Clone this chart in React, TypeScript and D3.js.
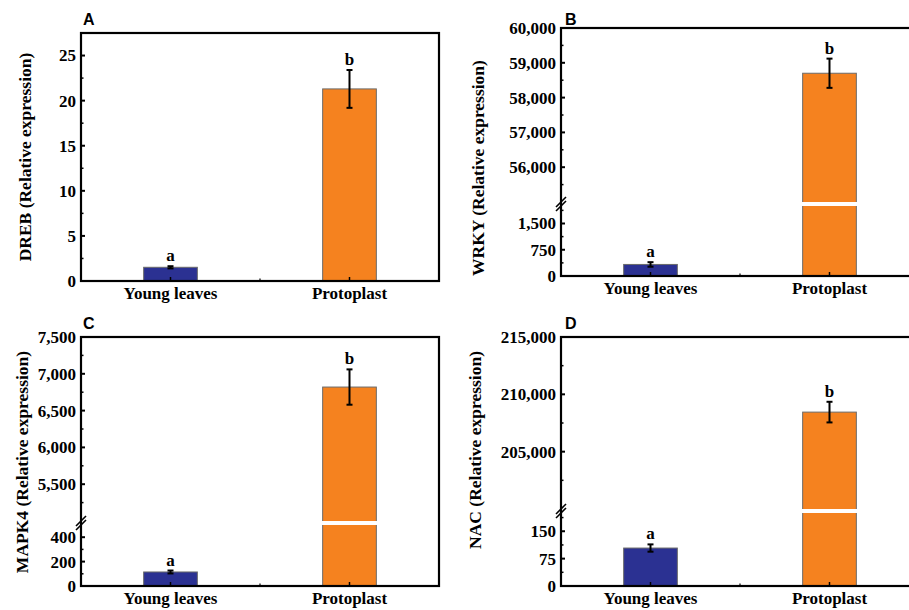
import React from 'react';
import * as d3 from 'd3';

// Sample groups shared by all four genes
const categories = ['Young leaves', 'Protoplast'];
const groupLetters = ['a', 'b'];
const barColors = ['#2b3192', '#f5821f'];

// Relative expression (mean ± SD) per gene
const dreebMean = [1.52, 21.3];
const dreebErr = [0.12, 2.1];
const wrkyMean = [330, 58700];
const wrkyErr = [65, 420];
const mapk4Mean = [115, 6820];
const mapk4Err = [12, 240];
const nacMean = [104, 208450];
const nacErr = [10, 900];

// Axis ticks (lower / upper segments for broken axes)
const dreebTicks = [0, 5, 10, 15, 20, 25];
const dreebMinor = [2.5, 7.5, 12.5, 17.5, 22.5];
const wrkyLowTicks = [0, 750, 1500];
const wrkyLowMinor = [375, 1125, 1875];
const wrkyHighTicks = [56000, 57000, 58000, 59000, 60000];
const wrkyHighMinor = [55500, 56500, 57500, 58500, 59500];
const mapk4LowTicks = [0, 200, 400];
const mapk4LowMinor = [100, 300];
const mapk4HighTicks = [5500, 6000, 6500, 7000, 7500];
const mapk4HighMinor = [5250, 5750, 6250, 6750, 7250];
const nacLowTicks = [0, 75, 150];
const nacLowMinor = [37.5, 112.5, 187.5];
const nacHighTicks = [205000, 210000, 215000];
const nacHighMinor = [202500, 207500, 212500];

interface Segment {
  domain: [number, number];
  range: [number, number];
  ticks: number[];
  minor: number[];
}

interface PanelSpec {
  tag: string;
  title: string;
  mean: number[];
  err: number[];
  left: number;
  right: number;
  top: number;
  bottom: number;
  lower: Segment;
  upper?: Segment;
  fmt: (v: number) => string;
  titleX: number;
  titleY: number;
  tagX: number;
  tagY: number;
}

const serif = 'Liberation Serif, Times New Roman, DejaVu Serif, serif';
const sans = 'Liberation Sans, Arial, sans-serif';

const panels: PanelSpec[] = [
  {
    tag: 'A',
    title: 'DREB (Relative expression)',
    mean: dreebMean,
    err: dreebErr,
    left: 81, right: 439, top: 33, bottom: 281,
    lower: { domain: [0, 27.5], range: [281, 33], ticks: dreebTicks, minor: dreebMinor },
    fmt: d3.format('d'),
    titleX: 31, titleY: 157,
    tagX: 83, tagY: 25,
  },
  {
    tag: 'B',
    title: 'WRKY (Relative expression)',
    mean: wrkyMean,
    err: wrkyErr,
    left: 561, right: 919, top: 28, bottom: 276,
    lower: { domain: [0, 2000], range: [276, 206], ticks: wrkyLowTicks, minor: wrkyLowMinor },
    upper: { domain: [55000, 60000], range: [202, 28], ticks: wrkyHighTicks, minor: wrkyHighMinor },
    fmt: d3.format(','),
    titleX: 484, titleY: 168,
    tagX: 565, tagY: 25,
  },
  {
    tag: 'C',
    title: 'MAPK4 (Relative expression)',
    mean: mapk4Mean,
    err: mapk4Err,
    left: 81, right: 439, top: 337, bottom: 586,
    lower: { domain: [0, 500], range: [586, 525], ticks: mapk4LowTicks, minor: mapk4LowMinor },
    upper: { domain: [5000, 7500], range: [521, 337], ticks: mapk4HighTicks, minor: mapk4HighMinor },
    fmt: d3.format(','),
    titleX: 28, titleY: 462,
    tagX: 83, tagY: 329,
  },
  {
    tag: 'D',
    title: 'NAC (Relative expression)',
    mean: nacMean,
    err: nacErr,
    left: 561, right: 919, top: 337, bottom: 586,
    lower: { domain: [0, 200], range: [586, 513], ticks: nacLowTicks, minor: nacLowMinor },
    upper: { domain: [200000, 215000], range: [509, 337], ticks: nacHighTicks, minor: nacHighMinor },
    fmt: d3.format(','),
    titleX: 481, titleY: 450,
    tagX: 565, tagY: 329,
  },
];

function Panel({ p }: { p: PanelSpec }) {
  const x = d3.scalePoint<string>().domain(categories).range([p.left, p.right]).padding(0.5);
  const lowY = d3.scaleLinear().domain(p.lower.domain).range(p.lower.range);
  const highY = p.upper ? d3.scaleLinear().domain(p.upper.domain).range(p.upper.range) : null;
  const yPos = (v: number) => (highY && p.upper && v >= p.upper.domain[0] ? highY(v) : lowY(v));
  const barW = x.step() * 0.3;
  const capW = 3;

  const segs: Segment[] = p.upper ? [p.lower, p.upper] : [p.lower];
  const scales = p.upper && highY ? [lowY, highY] : [lowY];
  const textStyle = { fontFamily: serif, fontWeight: 700 } as React.CSSProperties;

  return (
    <g>
      {/* bars; a bar crossing the break is cut by a white band */}
      {categories.map((c, i) => {
        const cx = x(c) as number;
        const v = p.mean[i];
        const yTop = yPos(v);
        const broken = !!(p.upper && v > p.upper.domain[0]);
        return (
          <g key={c}>
            <rect
              x={cx - barW / 2}
              y={yTop}
              width={barW}
              height={p.bottom - yTop}
              fill={barColors[i]}
              stroke="#6b6b6b"
              strokeWidth={1}
            />
            {broken && p.upper && (
              <rect
                x={cx - barW / 2 - 1.5}
                y={p.upper.range[0]}
                width={barW + 3}
                height={p.lower.range[1] - p.upper.range[0]}
                fill="#fff"
              />
            )}
          </g>
        );
      })}
      {/* error bars and significance letters */}
      {categories.map((c, i) => {
        const cx = x(c) as number;
        const yt = yPos(p.mean[i] + p.err[i]);
        const yb = yPos(p.mean[i] - p.err[i]);
        return (
          <g key={'e' + c}>
            <line x1={cx} x2={cx} y1={yt} y2={yb} stroke="#000" strokeWidth={2} />
            <line x1={cx - capW} x2={cx + capW} y1={yt} y2={yt} stroke="#000" strokeWidth={2} />
            <line x1={cx - capW} x2={cx + capW} y1={yb} y2={yb} stroke="#000" strokeWidth={2} />
            <text x={cx} y={yt - 5} textAnchor="middle" style={textStyle} fontSize={17}>
              {groupLetters[i]}
            </text>
          </g>
        );
      })}
      {/* frame */}
      <rect
        x={p.left}
        y={p.top}
        width={p.right - p.left}
        height={p.bottom - p.top}
        fill="none"
        stroke="#000"
        strokeWidth={2.2}
      />
      {/* y ticks */}
      {segs.map((s, k) => (
        <g key={'s' + k}>
          {s.ticks.map((t) => (
            <g key={'t' + t}>
              <line x1={p.left} x2={p.left + 4} y1={scales[k](t)} y2={scales[k](t)} stroke="#000" strokeWidth={2} />
              <text
                x={p.left - 5}
                y={scales[k](t)}
                dy="0.35em"
                textAnchor="end"
                style={textStyle}
                fontSize={17}
              >
                {p.fmt(t)}
              </text>
            </g>
          ))}
          {s.minor.map((t) => (
            <line
              key={'m' + t}
              x1={p.left}
              x2={p.left + 2.5}
              y1={scales[k](t)}
              y2={scales[k](t)}
              stroke="#000"
              strokeWidth={1.5}
            />
          ))}
        </g>
      ))}
      {/* axis break marks */}
      {p.upper && (() => {
        const mid = (p.lower.range[1] + p.upper.range[0]) / 2;
        return (
          <g>
            {[-2, 2].map((o) => (
              <line
                key={o}
                x1={p.left - 5}
                y1={mid + 5 + o}
                x2={p.left + 5}
                y2={mid - 5 + o}
                stroke="#000"
                strokeWidth={1.6}
              />
            ))}
          </g>
        );
      })()}
      {/* x ticks and labels */}
      {categories.map((c) => (
        <g key={'x' + c}>
          <line x1={x(c)} x2={x(c)} y1={p.bottom} y2={p.bottom - 4} stroke="#000" strokeWidth={1.5} />
          <text x={x(c)} y={p.bottom + 17.5} textAnchor="middle" style={textStyle} fontSize={17}>
            {c}
          </text>
        </g>
      ))}
      <line
        x1={(p.left + p.right) / 2}
        x2={(p.left + p.right) / 2}
        y1={p.bottom}
        y2={p.bottom - 2.5}
        stroke="#000"
        strokeWidth={1.2}
      />
      {/* axis title */}
      <text
        transform={`translate(${p.titleX},${p.titleY}) rotate(-90)`}
        textAnchor="middle"
        style={textStyle}
        fontSize={17.5}
      >
        {p.title}
      </text>
      {/* panel tag */}
      <text x={p.tagX} y={p.tagY} fontFamily={sans} fontWeight={700} fontSize={16}>
        {p.tag}
      </text>
    </g>
  );
}

export default function App() {
  return (
    <svg
      width={909}
      height={610}
      style={{ position: 'absolute', left: 0, top: 0, background: '#fff' }}
    >
      <rect width={909} height={610} fill="#fff" />
      {panels.map((p) => (
        <Panel key={p.tag} p={p} />
      ))}
    </svg>
  );
}
